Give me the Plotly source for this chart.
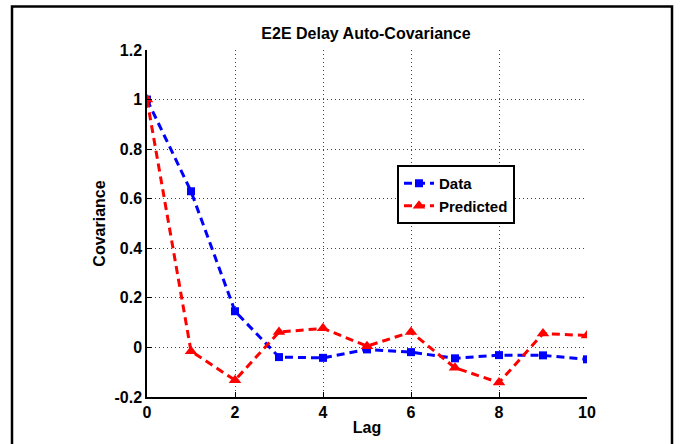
import plotly.graph_objects as go

lags = [0, 1, 2, 3, 4, 5, 6, 7, 8, 9, 10]
data_cov = [1.0, 0.63, 0.146, -0.039, -0.042, -0.008, -0.019, -0.044, -0.031, -0.032, -0.048]
pred_cov = [1.0, -0.015, -0.132, 0.062, 0.077, 0.005, 0.062, -0.082, -0.142, 0.056, 0.048]
x_ticks = [0, 2, 4, 6, 8, 10]
y_ticks = [-0.2, 0, 0.2, 0.4, 0.6, 0.8, 1.0, 1.2]
y_tick_labels = ["-0.2", "0", "0.2", "0.4", "0.6", "0.8", "1", "1.2"]

FONT = "Liberation Sans, Arial, sans-serif"

fig = go.Figure()
fig.add_trace(go.Scatter(
    x=lags, y=data_cov, name="<b>Data</b>", mode="lines+markers",
    line=dict(color="#0000ff", width=3, dash="8px,5px"),
    marker=dict(symbol="square", size=8, color="#0000ff"),
))
fig.add_trace(go.Scatter(
    x=lags, y=pred_cov, name="<b>Predicted</b>", mode="lines+markers",
    line=dict(color="#ff0000", width=3, dash="8px,5px"),
    marker=dict(symbol="triangle-up", size=11, color="#ff0000"),
))

axis_common = dict(
    showgrid=True, gridcolor="#444444", griddash="1px,3px", gridwidth=1,
    showline=True, linecolor="black", linewidth=1.5,
    ticks="inside", ticklen=5, tickcolor="black", tickwidth=1,
    zeroline=False, mirror=False, automargin=False,
    tickfont=dict(family=FONT, size=16, color="black"),
)

fig.update_layout(
    width=680, height=444,
    margin=dict(l=147, r=93, t=50, b=47),
    paper_bgcolor="white", plot_bgcolor="white",
    title=dict(text="<b>E2E Delay Auto-Covariance</b>", x=366 / 680, xanchor="center",
               y=1 - 33 / 444, yanchor="middle",
               font=dict(family=FONT, size=16, color="black")),
    xaxis=dict(range=[0, 10], tickvals=x_ticks,
               ticktext=["<b>%d</b>" % v for v in x_ticks],
               title=dict(text="<b>Lag</b>", font=dict(family=FONT, size=16, color="black"), standoff=2),
               **axis_common),
    yaxis=dict(range=[-0.2, 1.2], tickvals=y_ticks,
               ticktext=["<b>%s</b>" % t for t in y_tick_labels],
               title=dict(text="<b>Covariance</b>", font=dict(family=FONT, size=16, color="black"), standoff=5),
               **axis_common),
    legend=dict(x=(397 - 147) / 440, y=(397 - 165) / 347, xanchor="left", yanchor="top",
                bgcolor="white", bordercolor="black", borderwidth=2,
                font=dict(family=FONT, size=15, color="black"),
                itemwidth=30, tracegroupgap=0),
    showlegend=True,
)

# figure frame
fig.add_shape(type="rect", xref="paper", yref="paper",
              x0=(12 - 147) / 440, x1=(672 - 147) / 440,
              y0=-0.25, y1=(397 - 6.5) / 347,
              line=dict(color="black", width=2.5), fillcolor="rgba(0,0,0,0)", layer="below")

fig.write_html("out.html")
